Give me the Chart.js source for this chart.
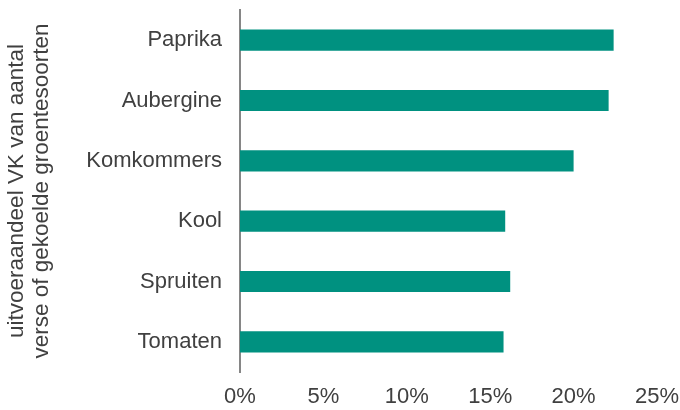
<!DOCTYPE html>
<html lang="nl">
<head>
    <meta charset="UTF-8">
    <title>Uitvoeraandeel VK</title>
    <script src="https://cdn.jsdelivr.net/npm/chart.js"></script>
    <style>
        html, body { margin: 0; padding: 0; background: #fff; }
        #wrap { width: 680px; height: 410px; }
    </style>
</head>
<body>
    <div id="wrap"><canvas id="shareChart"></canvas></div>
    <script>
        const categories = ['Paprika', 'Aubergine', 'Komkommers', 'Kool', 'Spruiten', 'Tomaten'];
        const shares = [22.4, 22.1, 20.0, 15.9, 16.2, 15.8];
        const axisTitle = ['uitvoeraandeel VK van aantal', 'verse of gekoelde groentesoorten'];

        const textColor = '#404040';
        const font = { family: 'Liberation Sans, Arial, sans-serif', size: 22 };

        new Chart(document.getElementById('shareChart'), {
            type: 'bar',
            data: {
                labels: categories,
                datasets: [{
                    data: shares,
                    backgroundColor: '#009180',
                    borderWidth: 0,
                    barPercentage: 0.35,
                    categoryPercentage: 1
                }]
            },
            options: {
                indexAxis: 'y',
                responsive: true,
                maintainAspectRatio: false,
                animation: false,
                layout: { padding: { top: 10, right: 23, left: 4, bottom: 0 } },
                plugins: { legend: { display: false }, tooltip: { enabled: false } },
                scales: {
                    x: {
                        min: 0,
                        max: 25,
                        ticks: {
                            stepSize: 5,
                            color: textColor,
                            font: font,
                            padding: 12,
                            maxRotation: 0,
                            callback: v => v + '%'
                        },
                        grid: { display: false, drawTicks: false },
                        border: { display: false },
                        afterFit: s => { s.height = 38; s.paddingLeft = 0; s.paddingRight = 0; }
                    },
                    y: {
                        ticks: { color: textColor, font: font, padding: 18 },
                        grid: { display: false, drawTicks: false },
                        border: { display: true, color: '#868686', width: 2 },
                        title: {
                            display: true,
                            text: axisTitle,
                            color: textColor,
                            font: { family: font.family, size: 22.5, lineHeight: 1.12 },
                            padding: { top: 0, bottom: 0 }
                        },
                        afterFit: s => { s.width = 236; s.paddingTop = 0; s.paddingBottom = 0; }
                    }
                }
            }
        });
    </script>
</body>
</html>
